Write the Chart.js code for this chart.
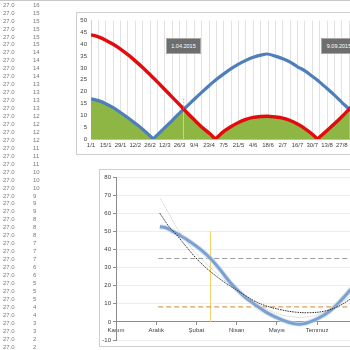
<!DOCTYPE html>
<html><head><meta charset="utf-8">
<script src="https://cdn.jsdelivr.net/npm/chart.js@4"></script>
<style>
html,body{margin:0;padding:0;width:350px;height:350px;overflow:hidden;background:#fff;font-family:'Liberation Sans',Arial,sans-serif;}
#sheet{position:absolute;left:0;top:0;width:70px;height:350px;filter:grayscale(1);}
.cell{position:absolute;font-size:6px;color:#7a7a7a;line-height:8px;height:8px;white-space:nowrap;}
.frame{position:absolute;border:1px solid #cfcfcf;background:#fff;box-sizing:border-box;}
#topWrap{left:76px;top:12px;width:330px;height:143px;}
#botWrap{left:99px;top:169px;width:310px;height:178px;}
.frame canvas{position:absolute;left:0;top:0;}
.tag{position:absolute;background:#6e6e6e;border:1px solid #a8a8a8;color:#fff;font-size:5.5px;text-align:center;line-height:14px;height:14px;box-sizing:content-box;white-space:nowrap;overflow:hidden;}
#topline{position:absolute;left:0;top:0;width:350px;height:1px;background:#c8c8c8;}
</style></head>
<body>
<div id="topline"></div>
<div id="sheet"></div>
<div class="frame" id="topWrap"><canvas id="c1" width="328" height="141"></canvas></div>
<div class="frame" id="botWrap"><canvas id="c2" width="308" height="176"></canvas></div>
<script>
// ---- spreadsheet columns ----
const sheetColA = [27.0,27.0,27.0,27.0,27.0,27.0,27.0,27.0,27.0,27.0,27.0,27.0,27.0,27.0,27.0,27.0,27.0,27.0,27.0,27.0,27.0,27.0,
                   27.0,27.0,27.0,27.0,27.0,27.0,27.0,27.0,27.0,27.0,27.0,27.0,27.0,27.0,27.0,27.0,27.0,27.0,27.0,27.0,27.0,27.0];
const sheetColB = [16,15,15,15,15,15,14,14,14,14,13,13,13,13,12,12,12,12,11,11,11,10,
                   10,10,9,9,9,8,8,8,7,7,7,6,6,5,5,5,4,4,3,3,2,2];

// ---- top chart (days since 1/1) ----
const topDays   = [0,7,14,21,28,35,42,49,56,59,63,70,77,84,88,91,98,105,112,118,126,133,140,147,154,161,167,175,182,189,196,203,210,215,217,224,231,238,245,252,259,266];
const redValues = [44.0,43.1,41.7,40.0,38.0,35.6,33.0,30.2,27.2,25.9,24.1,20.9,17.7,14.5,12.6,11.2,8.1,5.1,2.5,0,3.2,5.3,7.0,8.3,9.1,9.5,9.6,9.3,8.8,7.8,6.3,4.4,2.0,0,0.8,3.6,6.4,9.4,12.6,15.9,19.3,22.5];
const blueValues= [17.0,16.2,14.9,13.2,11.2,9.0,6.6,4.1,1.3,0,1.7,4.8,7.8,10.9,12.6,13.8,16.8,19.7,22.5,24.8,27.5,29.7,31.6,33.2,34.5,35.4,35.9,35.0,33.9,32.5,30.5,28.8,26.5,24.8,24.0,21.3,18.5,15.5,12.6,9.6,6.5,3.5];
const topTickLabels = ['1/1','15/1','29/1','12/2','26/2','12/3','26/3','9/4','23/4','7/5','21/5','4/6','18/6','2/7','16/7','30/7','13/8','27/8','10/9','24/9'];
const topNotes = ['1.04.2015','9.09.2015'];
const calloutDay = 88, calloutFrom = 12.6, calloutTo = 17.5;

// ---- bottom chart (x in axis-label units) ----
const botTickLabels = ['Kasım','Aralık','Şubat','Nisan','Mayıs','Temmuz','Eylül','Kasım'];
const curveX = [1.09,1.24,1.36,1.61,1.86,2.10,2.35,2.60,2.85,3.17,3.42,3.76,4.16,4.41,4.65,5.00,5.32,5.64,5.82,6.19];
const curveY = [52.5,52.0,50.6,47.5,44.0,40.0,35.0,28.5,21.5,14.4,10.2,5.0,0.8,-0.9,-1.1,1.7,6.0,13.0,17.5,27.0];
const trendX = [1.09,1.24,1.36,1.51,1.73,1.98,2.23,2.48,2.72,2.97,3.22,3.42,3.71,4.08,4.46,4.83,5.20,5.52,5.82,6.19];
const trendY = [60.0,55.0,51.5,48.0,42.0,35.5,30.0,25.5,21.5,18.0,14.5,11.8,9.0,6.8,5.4,5.1,6.0,8.5,12.5,18.0];
const thinX  = [1.11,1.31,1.51,1.73,1.98,2.35,2.85,3.34,3.84,4.33,4.83,5.32,5.82,6.19];
const thinY  = [68.0,60.0,52.0,45.0,38.0,30.0,20.0,12.0,6.0,3.0,3.0,7.0,14.0,20.0];
const upperLevel = 35, lowerLevel = 8.3, levelFrom = 1.05, levelTo = 7;
const markerAt = 2.35, markerTop = 50;

// spreadsheet text
const sheet = document.getElementById('sheet');
sheetColA.forEach((v,i)=>{
  const a=document.createElement('div'); a.className='cell'; a.style.left='3px'; a.style.top=(0.7+7.95*i)+'px'; a.textContent=v.toFixed(1); sheet.appendChild(a);
  const b=document.createElement('div'); b.className='cell'; b.style.left='33px'; b.style.top=(0.7+7.95*i)+'px'; b.textContent=String(sheetColB[i]); sheet.appendChild(b);
});

// notes
const tw = document.getElementById('topWrap');
[[89,25,33],[244,25,34]].forEach((p,i)=>{
  const d=document.createElement('div'); d.className='tag'; d.style.left=p[0]+'px'; d.style.top=p[1]+'px'; d.style.width=p[2]+'px'; d.textContent=topNotes[i]; tw.appendChild(d);
});

function split(xs, ys, isBreak){
  const segs=[]; let cur=[];
  for(let i=0;i<xs.length;i++){
    cur.push({x:xs[i],y:ys[i]});
    if(i>0 && i<xs.length-1 && isBreak(i)){ segs.push(cur); cur=[{x:xs[i],y:ys[i]}]; }
  }
  segs.push(cur); return segs;
}
const greenValues = redValues.map((r,i)=>Math.min(r,blueValues[i]));
const RED='#e30b0b', BLUE='#4f7fba', GREEN='#8db645';
const ds=[];
split(topDays,greenValues,i=>redValues[i]===0||blueValues[i]===0||redValues[i]===blueValues[i]).forEach(s=>ds.push({data:s,fill:'origin',backgroundColor:GREEN,borderColor:GREEN,borderWidth:0.6,pointRadius:0,cubicInterpolationMode:'monotone',order:3}));
split(topDays,blueValues,i=>blueValues[i]===0).forEach(s=>ds.push({data:s,fill:false,borderColor:BLUE,borderWidth:3.2,pointRadius:0,cubicInterpolationMode:'monotone',order:2}));
split(topDays,redValues,i=>redValues[i]===0).forEach(s=>ds.push({data:s,fill:false,borderColor:RED,borderWidth:3.4,pointRadius:0,cubicInterpolationMode:'monotone',order:1}));
ds.push({data:[{x:calloutDay,y:calloutFrom},{x:calloutDay,y:calloutTo}],borderColor:'#9a9a9a',borderWidth:0.8,borderDash:[1.5,1.5],pointRadius:0,fill:false,order:0});

const tickFont={family:"'Liberation Sans', Arial, sans-serif",size:6};
new Chart(document.getElementById('c1'),{
  type:'line',
  data:{datasets:ds},
  options:{
    responsive:false,animation:false,
    layout:{padding:{left:0,top:6,right:33.7,bottom:0}},
    plugins:{legend:{display:false},tooltip:{enabled:false}},
    scales:{
      x:{type:'linear',min:0,max:266,
        ticks:{stepSize:7,autoSkip:false,maxRotation:0,color:'#404040',font:tickFont,padding:3,
          callback:(v)=>{const k=v/14; return Number.isInteger(k)?(topTickLabels[k]||''):'';}},
        grid:{color:'#e2e2e2',lineWidth:1,drawTicks:false},
        border:{color:'#bdbdbd'},
        afterFit:s=>{s.height=15;}},
      y:{min:0,max:50,
        ticks:{stepSize:5,color:'#404040',font:tickFont,padding:4},
        grid:{display:false,drawTicks:false},
        border:{color:'#d0d0d0'},
        afterFit:s=>{s.width=14;}}
    }
  }
});

const pts=(xs,ys)=>xs.map((x,i)=>({x:x,y:ys[i]}));
new Chart(document.getElementById('c2'),{
  type:'line',
  data:{datasets:[
    {data:[{x:markerAt,y:0},{x:markerAt,y:markerTop}],borderColor:'#f0d068',borderWidth:1,pointRadius:0,order:6},
    {data:[{x:levelFrom,y:upperLevel},{x:levelTo,y:upperLevel}],borderColor:'#9c9c9c',borderWidth:1.2,borderDash:[5,3],pointRadius:0,order:5},
    {data:[{x:levelFrom,y:lowerLevel},{x:levelTo,y:lowerLevel}],borderColor:'#d8a060',borderWidth:1.2,borderDash:[5,3],pointRadius:0,order:5},
    {data:pts(curveX,curveY),borderColor:'rgba(200,218,240,0.7)',borderWidth:5,pointRadius:0,tension:0.4,order:4},
    {data:pts(curveX,curveY),borderColor:'#7ca1d0',borderWidth:3,pointRadius:0,tension:0.4,order:3},
    {data:pts(thinX,thinY),borderColor:'#c4c4c4',borderWidth:1,borderDash:[1,1],pointRadius:0,tension:0.4,order:2},
    {data:pts(trendX,trendY),borderColor:'#2a2a2a',borderWidth:1,borderDash:[1.5,1],pointRadius:0,tension:0.4,order:1}
  ]},
  options:{
    responsive:false,animation:false,
    layout:{padding:{left:0,top:7,right:8,bottom:6}},
    plugins:{legend:{display:false},tooltip:{enabled:false}},
    scales:{
      x:{type:'linear',min:0,max:7,position:{y:0},
        ticks:{stepSize:1,autoSkip:false,maxRotation:0,color:'#404040',font:tickFont,padding:2,
          callback:(v)=>Number.isInteger(v)?(botTickLabels[v]||''):''},
        grid:{drawOnChartArea:false,tickLength:3,color:'#8c8c8c'},
        border:{color:'#8c8c8c'},
        afterFit:s=>{s.height=0;}},
      y:{min:-10,max:80,
        ticks:{stepSize:10,color:'#404040',font:tickFont,padding:2},
        grid:{color:'#ededed',tickLength:3,tickColor:'#8c8c8c'},
        border:{color:'#8c8c8c'},
        afterFit:s=>{s.width=16;}}
    }
  }
});
</script>
</body></html>
